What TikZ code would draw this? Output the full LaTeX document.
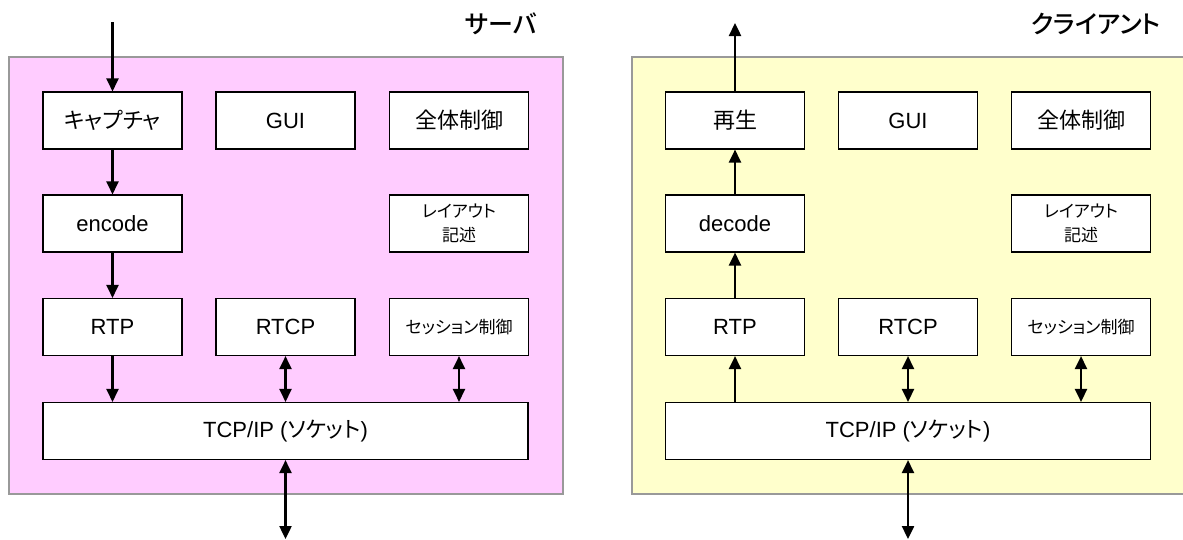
\documentclass[tikz,border=0pt]{standalone}
\usepackage{fontspec}
\setmainfont{Liberation Sans}
\newfontfamily\jp[RawFeature=+palt]{Noto Sans CJK JP}
\newfontfamily\jpm[RawFeature=+palt]{Noto Sans CJK JP Medium}
\usetikzlibrary{arrows.meta}
\definecolor{srvfill}{HTML}{FFCCFF}
\definecolor{clifill}{HTML}{FFFFCC}
\definecolor{panelline}{HTML}{999999}
\tikzset{
  panel/.style={draw=panelline, line width=1.2pt},
  blk/.style={draw=black, fill=white, line width=1.1pt, minimum width=139pt, minimum height=57pt, inner sep=0pt, align=center, font=\fontsize{22}{26}\selectfont},
  small/.style={font=\fontsize{17}{24}\selectfont\jp},
  wide/.style={blk, minimum width=485pt},
  title/.style={font=\fontsize{25}{30}\selectfont\jpm, inner sep=0pt},
  arr/.style={line width=2.4pt, -{Triangle[length=13pt,width=12pt]}},
  darr/.style={line width=2.4pt, {Triangle[length=13pt,width=12pt]}-{Triangle[length=13pt,width=12pt]}}
}
\begin{document}
\begin{tikzpicture}[x=1pt,y=-1pt]
\clip (0,0) rectangle (1183,539);
\fill[white] (0,0) rectangle (1183,539);
% panels
\filldraw[panel, fill=srvfill] (9,57) rectangle (563,494);
\filldraw[panel, fill=clifill] (632,57) rectangle (1192,494);
% titles
\node[title] (stitle) at (501,24) {サーバ};
\node[title] (ctitle) at (1096,24) {クライアント};
% server blocks
\node[blk] (cap) at (112.5,120.5) {\jp キャプチャ};
\node[blk] (sgui) at (285.5,120.5) {GUI};
\node[blk] (sctl) at (459,120.5) {\jp 全体制御};
\node[blk] (enc) at (112.5,223.5) {encode};
\node[blk, small] (slay) at (459,223.5) {レイアウト\\記述};
\node[blk] (srtp) at (112.5,327) {RTP};
\node[blk] (srtcp) at (285.5,327) {RTCP};
\node[blk, small] (ssess) at (459,327) {セッション制御};
\node[wide] (stcp) at (285.5,431) {TCP/IP ({\jp ソケット})};
% client blocks
\node[blk] (play) at (735,120.5) {\jp 再生};
\node[blk] (cgui) at (908,120.5) {GUI};
\node[blk] (cctl) at (1081,120.5) {\jp 全体制御};
\node[blk] (dec) at (735,223.5) {decode};
\node[blk, small] (clay) at (1081,223.5) {レイアウト\\記述};
\node[blk] (crtp) at (735,327) {RTP};
\node[blk] (crtcp) at (908,327) {RTCP};
\node[blk, small] (csess) at (1081,327) {セッション制御};
\node[wide] (ctcp) at (908,431) {TCP/IP ({\jp ソケット})};
% free ends
\coordinate (sin) at (112.5,22);
\coordinate (sout) at (285.5,539);
\coordinate (cout) at (735,23);
\coordinate (cin) at (908,539);
% server arrows
\draw[arr] (sin) -- (cap.north);
\draw[arr] (cap.south) -- (enc.north);
\draw[arr] (enc.south) -- (srtp.north);
\draw[arr] (srtp.south) -- (srtp.south |- stcp.north);
\draw[darr] (srtcp.south) -- (srtcp.south |- stcp.north);
\draw[darr] (ssess.south) -- (ssess.south |- stcp.north);
\draw[darr] (stcp.south) -- (sout);
% client arrows
\draw[arr] (play.north) -- (cout);
\draw[arr] (dec.north) -- (play.south);
\draw[arr] (crtp.north) -- (dec.south);
\draw[arr] (crtp.south |- ctcp.north) -- (crtp.south);
\draw[darr] (crtcp.south) -- (crtcp.south |- ctcp.north);
\draw[darr] (csess.south) -- (csess.south |- ctcp.north);
\draw[darr] (ctcp.south) -- (cin);
\end{tikzpicture}
\end{document}
